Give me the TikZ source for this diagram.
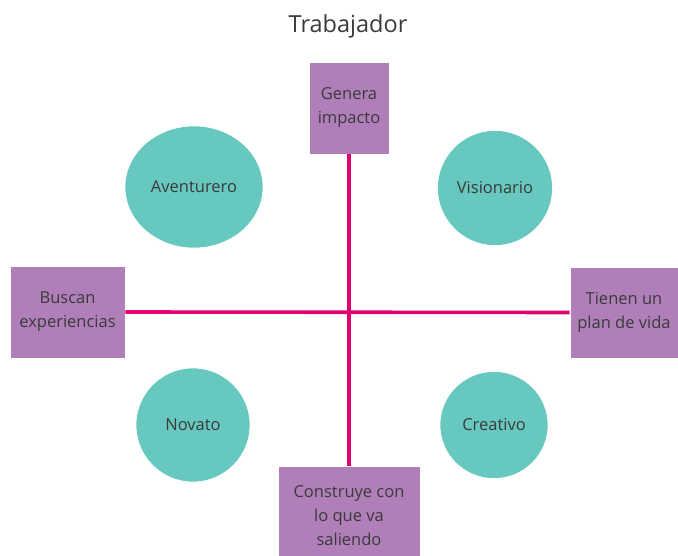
\documentclass[tikz,border=0pt]{standalone}
\usepackage{fontspec}
\setmainfont{Open Sans}
\usetikzlibrary{shapes.geometric,positioning}
\definecolor{boxpurple}{HTML}{B07FBA}
\definecolor{blobteal}{HTML}{67C8BF}
\definecolor{axisred}{HTML}{E0006F}
\definecolor{txtgray}{HTML}{3A3A3A}
\tikzstyle{pole} = [rectangle, fill=boxpurple, draw=white, line width=0.6pt,
text=txtgray, align=center, inner sep=0pt, font=\fontsize{16.5}{24}\selectfont]
\tikzstyle{kind} = [ellipse, fill=blobteal, draw=white, line width=0.6pt,
text=txtgray, inner sep=0pt, font=\fontsize{16.5}{24}\selectfont]
\tikzstyle{axis} = [axisred, line width=3.6pt]

\begin{document}
\begin{tikzpicture}[x=1pt, y=-1pt]
            \useasboundingbox (0,0) rectangle (678,556);
            \node[text=txtgray, font=\fontsize{23.5}{26}\selectfont] (title) at (348,26) {Trabajador};
            % poles of the two axes
            \node[pole, minimum width=80, minimum height=92] (impacto) at (349,108) {Genera\\impacto};
            \node[pole, minimum width=115, minimum height=92] (buscan) at (67.5,312) {Buscan\\experiencias};
            \node[pole, minimum width=108, minimum height=91] (plan) at (624,312.5) {Tienen un\\plan de vida};
            \node[pole, minimum width=142, minimum height=100] (construye) at (349,516) {Construye con\\lo que va\\saliendo};
            % axes
            \draw[axis] (impacto.south) -- (construye.north);
            \draw[axis] (buscan.east) -- (plan.west);
            % the four kinds
            \node[kind, minimum width=138, minimum height=122] (aventurero) at (194,187) {Aventurero};
            \node[kind, minimum width=115, minimum height=115] (visionario) at (495,188) {Visionario};
            \node[kind, minimum width=114, minimum height=114] (novato) at (193,425) {Novato};
            \node[kind, minimum width=108, minimum height=107] (creativo) at (494,425) {Creativo};
\end{tikzpicture}
\end{document}
